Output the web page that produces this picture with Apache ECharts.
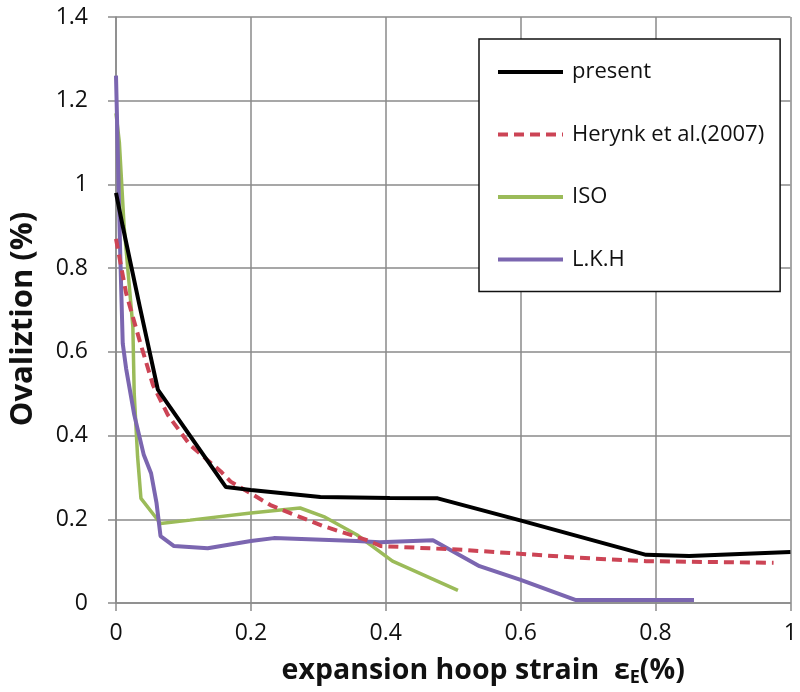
<!DOCTYPE html>
<html><head><meta charset="utf-8">
<script src="https://cdn.jsdelivr.net/npm/echarts@6/dist/echarts.min.js"></script>
<style>html,body{margin:0;padding:0;background:#fff}#c{width:800px;height:692px}</style>
</head><body><div id="c"></div>
<script>
const seriesNames = ['present', 'Herynk et al.(2007)', 'ISO', 'L.K.H'];
const presentData = [[0,0.98],[0.01,0.9],[0.035,0.71],[0.062,0.51],[0.163,0.277],[0.2,0.27],[0.303,0.253],[0.406,0.251],[0.477,0.25],[0.598,0.198],[0.786,0.115],[0.85,0.112],[1.0,0.122]];
const herynkData = [[0,0.87],[0.015,0.74],[0.037,0.616],[0.055,0.52],[0.077,0.449],[0.11,0.377],[0.155,0.315],[0.17,0.29],[0.229,0.234],[0.269,0.208],[0.307,0.184],[0.372,0.15],[0.393,0.136],[0.514,0.127],[0.687,0.108],[0.786,0.1],[0.975,0.096]];
const isoData = [[0,1.17],[0.005,1.1],[0.012,0.9],[0.025,0.66],[0.027,0.5],[0.032,0.35],[0.037,0.25],[0.066,0.19],[0.11,0.198],[0.2,0.215],[0.273,0.227],[0.31,0.205],[0.357,0.163],[0.41,0.1],[0.507,0.03]];
const lkhData = [[0,1.26],[0.006,0.85],[0.01,0.62],[0.015,0.56],[0.027,0.45],[0.041,0.355],[0.052,0.31],[0.06,0.24],[0.066,0.16],[0.086,0.136],[0.136,0.131],[0.2,0.148],[0.234,0.155],[0.357,0.148],[0.391,0.145],[0.47,0.15],[0.539,0.088],[0.6,0.055],[0.682,0.007],[0.857,0.007]];
const xTicks = [0, 0.2, 0.4, 0.6, 0.8, 1];
const yTicks = [0, 0.2, 0.4, 0.6, 0.8, 1, 1.2, 1.4];

const font = '"Open Sans", Lato, sans-serif';
const chart = echarts.init(document.getElementById('c'), null, {renderer: 'canvas'});
const gridLine = {show: true, lineStyle: {color: '#8a8a8a', width: 1.5}};
chart.setOption({
  animation: false,
  backgroundColor: '#fff',
  grid: {left: 115, right: 8, top: 17, bottom: 87},
  xAxis: {
    type: 'value', min: 0, max: 1, interval: 0.2,
    axisLine: {show: true, onZero: false, lineStyle: {color: '#8a8a8a', width: 1.5}},
    axisTick: {show: true, length: 8, lineStyle: {color: '#8a8a8a', width: 1.5}},
    splitLine: gridLine,
    axisLabel: {color: '#111', fontSize: 23, fontFamily: font, margin: 19,
      formatter: v => xTicks.includes(+v.toFixed(2)) ? String(+v.toFixed(2)) : ''},
    name: '{a|expansion hoop strain  ε}{s|E}{a|(%)}',
    nameLocation: 'middle', nameGap: 52,
    nameTextStyle: {padding: [0, 0, 0, 60], rich: {
      a: {fontSize: 28.5, fontWeight: 'bold', fontFamily: font, color: '#111'},
      s: {fontSize: 18, fontWeight: 'bold', fontFamily: font, color: '#111', padding: [14, 0, 0, 0]}
    }}
  },
  yAxis: {
    type: 'value', min: 0, max: 1.4, interval: 0.2,
    axisLine: {show: true, onZero: false, lineStyle: {color: '#8a8a8a', width: 1.5}},
    axisTick: {show: true, length: 8, lineStyle: {color: '#8a8a8a', width: 1.5}},
    splitLine: gridLine,
    axisLabel: {color: '#111', fontSize: 23, fontFamily: font, margin: 28,
      formatter: v => yTicks.includes(+v.toFixed(2)) ? String(+v.toFixed(2)) : ''},
    name: 'Ovaliztion (%)', nameLocation: 'middle', nameGap: 77,
    nameTextStyle: {fontSize: 31, fontWeight: 'bold', fontFamily: font, color: '#111', padding: [0, 18, 0, 0]}
  },
  legend: {
    orient: 'vertical', left: 479, top: 39,
    padding: [22, 16, 21, 17], itemGap: 40.5, itemWidth: 65, itemHeight: 22,
    backgroundColor: '#fff', borderColor: '#111', borderWidth: 1.5,
    itemStyle: {opacity: 0},
    lineStyle: {width: 4},
    textStyle: {fontSize: 22, fontFamily: font, color: '#111', padding: [0, 0, 0, 4]},
    data: seriesNames
  },
  series: [
    {name: seriesNames[0], type: 'line', data: presentData, symbol: 'none', z: 5,
     lineStyle: {color: '#000', width: 4}, itemStyle: {color: '#000'}},
    {name: seriesNames[1], type: 'line', data: herynkData, symbol: 'none', z: 4,
     lineStyle: {color: '#cc4455', width: 4, type: [10, 6]}, itemStyle: {color: '#cc4455'}},
    {name: seriesNames[2], type: 'line', data: isoData, symbol: 'none', z: 3,
     lineStyle: {color: '#9bbb59', width: 3.5}, itemStyle: {color: '#9bbb59'}},
    {name: seriesNames[3], type: 'line', data: lkhData, symbol: 'none', z: 3,
     lineStyle: {color: '#7b66b0', width: 4}, itemStyle: {color: '#7b66b0'}}
  ]
});
</script></body></html>
